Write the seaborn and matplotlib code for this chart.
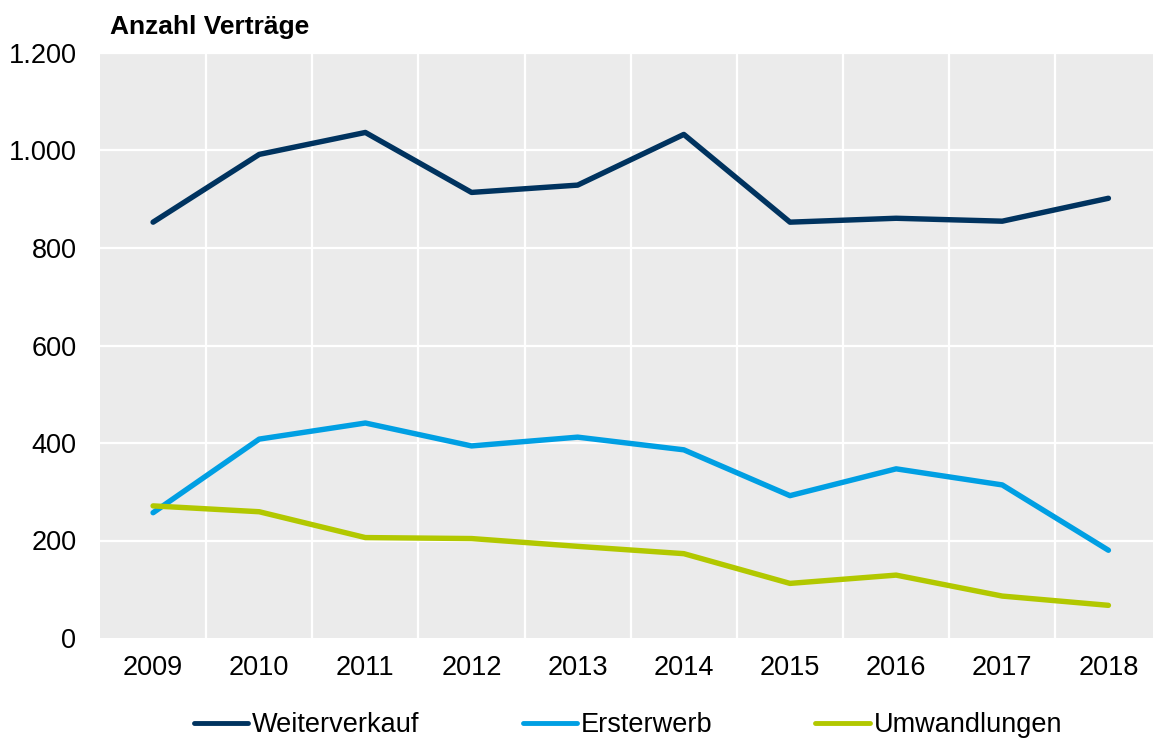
import matplotlib
matplotlib.use("Agg")
from matplotlib import pyplot as plt
from matplotlib.ticker import FuncFormatter
import pandas as pd
import seaborn as sns

# data
years = ['2009', '2010', '2011', '2012', '2013', '2014', '2015', '2016', '2017', '2018']
weiterverkauf = [853, 992, 1037, 914, 929, 1033, 853, 861, 855, 902]
ersterwerb = [257, 408, 441, 394, 412, 386, 292, 347, 314, 180]
umwandlungen = [271, 259, 206, 204, 188, 173, 112, 129, 86, 67]

series_names = ['Weiterverkauf', 'Ersterwerb', 'Umwandlungen']
colors = ['#00335F', '#009FE3', '#B2C800']

df = pd.DataFrame({
    'Jahr': years * 3,
    'Anzahl': weiterverkauf + ersterwerb + umwandlungen,
    'Art': [n for n in series_names for _ in years],
})

sns.set_style("white")
plt.rcParams['font.family'] = ['Liberation Sans', 'DejaVu Sans']
plt.rcParams['text.color'] = 'black'

fig = plt.figure(figsize=(11.53, 7.40), dpi=100)
ax = fig.add_axes([100 / 1153, 1 - 638 / 740, 1053 / 1153, 585 / 740])
ax.set_facecolor('#EBEBEB')

sns.lineplot(data=df, x='Jahr', y='Anzahl', hue='Art', palette=colors,
             linewidth=3.9, ax=ax, legend=False, sort=False)
for line in ax.get_lines():
    line.set_solid_capstyle('round')
    line.set_solid_joinstyle('round')

ax.set_xlim(-0.5, 9.42)
ax.set_ylim(0, 1200)
ax.set_yticks(range(0, 1201, 200))
ax.yaxis.set_major_formatter(FuncFormatter(lambda v, p: f"{int(v):,}".replace(',', '.')))

# gridlines: horizontal at ticks, vertical between categories
for yv in range(200, 1201, 200):
    ax.axhline(yv, color='white', linewidth=1.6, zorder=0.5)
for i in range(len(years) - 1):
    ax.axvline(i + 0.5, color='white', linewidth=1.6, zorder=0.5)

ax.tick_params(axis='both', length=0, labelsize=19.5, colors='black')
ax.tick_params(axis='y', pad=17)
ax.tick_params(axis='x', pad=12)
ax.set_xlabel('')
ax.set_ylabel('')
for s in ax.spines.values():
    s.set_visible(False)

fig.text(110 / 1153, 1 - 27 / 740, 'Anzahl Verträge', fontsize=19, fontweight='bold',
         color='black', ha='left', va='center')

handles = [plt.Line2D([], [], color=c, linewidth=3.5, solid_capstyle='round') for c in colors]
fig.legend(handles, series_names, loc='center', bbox_to_anchor=(628 / 1153, 1 - 725 / 740),
           ncol=3, frameon=False, fontsize=19.5, handlelength=2.0, handletextpad=0.15,
           columnspacing=3.8, borderaxespad=0)

fig.savefig('out.png', dpi=100)
